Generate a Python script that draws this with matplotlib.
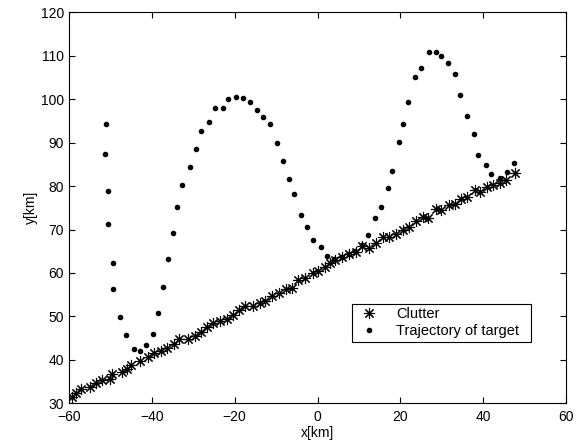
import numpy as np
import matplotlib
matplotlib.use("Agg")
import matplotlib.pyplot as plt

plt.rcParams['font.family'] = ['Liberation Sans', 'DejaVu Sans']

# clutter positions [km]
clutter_x = [-59.4, -58.4, -57.1, -55.0, -53.4, -52.0, -50.2, -49.7, -47.3, -46.0,
             -45.1, -42.9, -41.0, -39.5, -37.8, -36.4, -34.6, -33.5, -31.2, -29.6,
             -28.2, -26.8, -25.3, -23.5, -21.9, -20.3, -18.9, -17.5, -15.5, -13.9,
             -12.6, -10.9, -9.4, -7.6, -6.05, -4.6, -3.0, -1.2, 0.0, 1.8,
             3.0, 4.2, 5.9, 7.7, 9.2, 10.8, 12.5, 14.1, 15.9, 17.2,
             19.0, 20.6, 22.0, 23.9, 25.4, 26.7, 28.5, 29.9, 31.7, 33.15,
             34.7, 36.1, 38.0, 39.2, 41.0, 42.3, 44.0, 45.4, 47.7]
clutter_y = [31.4, 32.45, 33.4, 33.8, 34.6, 35.4, 35.5, 36.7, 37.3, 37.9,
             38.8, 39.7, 40.7, 41.6, 42.1, 42.8, 43.6, 44.7, 44.8, 45.6,
             46.4, 47.5, 48.4, 49.0, 49.3, 50.4, 51.4, 52.3, 52.5, 53.2,
             53.6, 54.6, 55.3, 56.3, 56.5, 58.3, 58.9, 60.0, 60.4, 61.45,
             62.2, 62.9, 63.75, 64.4, 64.9, 66.25, 65.75, 67.0, 68.3, 68.35,
             68.9, 70.0, 70.5, 72.05, 72.9, 72.7, 74.7, 74.5, 75.65, 75.8,
             77.0, 77.55, 79.1, 78.6, 79.9, 80.2, 80.65, 81.4, 83.1]

# target trajectory [km]
traj_x = [-51.0, -51.2, -50.6, -50.6, -49.4, -49.3, -47.7, -46.2, -44.3, -42.9,
          -41.4, -39.8, -38.5, -37.3, -36.2, -34.8, -34.0, -32.6, -30.7, -29.3,
          -28.1, -26.2, -24.8, -22.9, -21.5, -19.8, -17.9, -16.2, -14.5, -13.1,
          -11.4, -9.75, -8.4, -7.0, -5.6, -4.1, -2.65, -1.0, 0.8, 2.4,
          4.1, 5.8, 7.5, 9.1, 10.7, 12.1, 14.0, 15.4, 16.9, 17.9,
          19.6, 20.7, 21.8, 23.5, 24.9, 26.8, 28.5, 29.9, 31.55, 33.2,
          34.4, 36.0, 37.7, 38.7, 40.7, 42.0, 44.0, 45.8, 47.4]
traj_y = [94.3, 87.4, 78.9, 71.3, 62.4, 56.25, 49.95, 45.7, 42.6, 42.0,
          43.4, 46.0, 50.7, 56.85, 63.1, 69.2, 75.3, 80.3, 84.3, 88.5,
          92.75, 94.8, 98.0, 98.0, 100.1, 100.6, 100.35, 99.3, 97.45, 95.8,
          94.3, 90.0, 85.85, 81.6, 78.2, 73.4, 70.55, 67.6, 66.05, 64.0,
          63.1, 63.7, 64.4, 65.0, 66.4, 68.7, 72.6, 75.3, 79.5, 83.5,
          90.1, 94.3, 99.3, 105.1, 107.25, 110.9, 110.9, 109.9, 108.3, 105.7,
          100.9, 96.2, 92.0, 87.2, 84.85, 82.7, 81.8, 83.2, 85.3]

fig = plt.figure(figsize=(5.82, 4.48), dpi=100)
ax = fig.add_axes([0.1186, 0.0998, 0.8539, 0.8727])

# matlab style asterisk: + and x together
ax.plot(clutter_x, clutter_y, linestyle='none', marker=(8, 2, 0), color='k',
        ms=8, mew=0.8, label='Clutter')
ax.plot(traj_x, traj_y, 'o', color='k', ms=3, label='Trajectory of target')

ax.set_xlim(-60, 60)
ax.set_ylim(30, 120)
ax.set_xticks(np.arange(-60, 61, 20))
ax.set_yticks(np.arange(30, 121, 10))
ax.tick_params(direction='in', top=True, right=True, labelsize=10, length=4)
ax.tick_params(axis='x', pad=5)
ax.set_xlabel('x[km]', fontsize=10, labelpad=1)
ax.set_ylabel('y[km]', fontsize=10, labelpad=2)

leg = ax.legend(loc='lower left', bbox_to_anchor=(0.569, 0.1575, 0.361, 0.11),
                mode='expand', fancybox=False, edgecolor='k', framealpha=1,
                fontsize=10.5, handlelength=1.8, handletextpad=1.0,
                borderaxespad=0, borderpad=0.25, labelspacing=0.2)
leg.get_frame().set_linewidth(0.8)

fig.savefig('out.png', dpi=100)
